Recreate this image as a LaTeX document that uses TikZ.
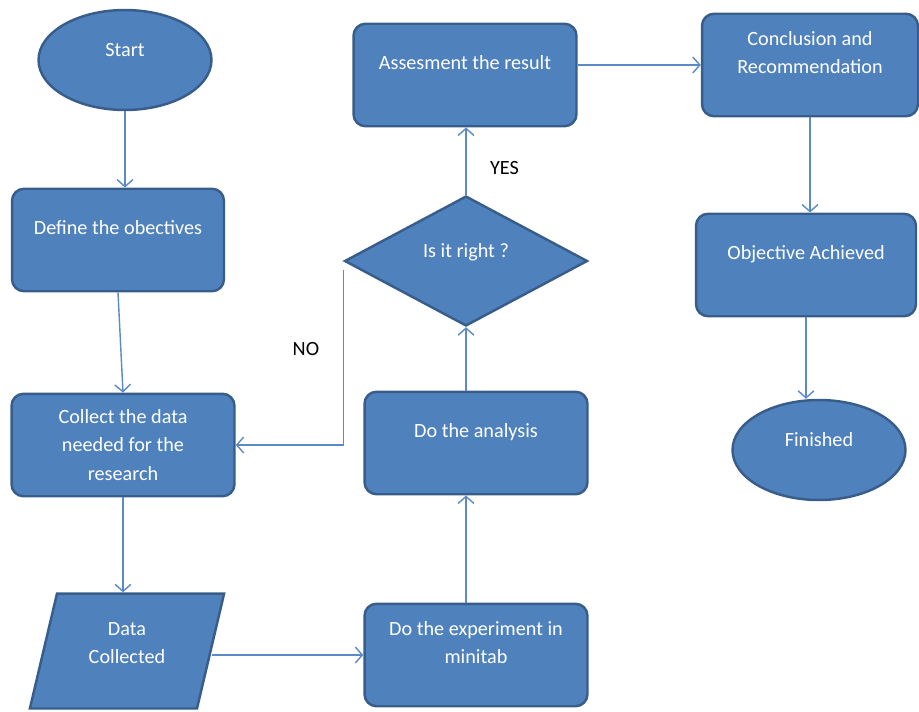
\documentclass[tikz,border=0pt]{standalone}
\usepackage{fontspec}
\setmainfont{Carlito}
\usepackage{xcolor}
\usetikzlibrary{arrows.meta,positioning,calc,shapes.geometric}
\definecolor{boxfill}{HTML}{4F81BD}
\definecolor{boxline}{HTML}{385D8A}
\definecolor{flowline}{HTML}{5B8AC6}

\begin{document}
\begin{tikzpicture}[
  x=0.02cm, y=-0.02cm,
  >={Straight Barb[length=4pt, width=9pt, line width=0.8pt]},
  shp/.style={draw=boxline, fill=boxfill, line width=1.4pt, text=white,
              align=center, font=\fontsize{11.5}{16}\selectfont},
  proc/.style={shp, rectangle, rounded corners=0.24cm,
               minimum width=4.46cm, minimum height=2.05cm},
  term/.style={shp, ellipse, minimum width=3.46cm, minimum height=2cm},
  decide/.style={shp, diamond, aspect=1.87, minimum width=4.86cm, minimum height=2.6cm},
  io/.style={shp, trapezium, trapezium left angle=76, trapezium right angle=104,
             trapezium stretches=true, minimum width=3.9cm, minimum height=2.3cm},
  lift/.style={text depth=#1},
  flow/.style={->, draw=flowline, line width=0.8pt},
  tag/.style={font=\fontsize{11.5}{14}\selectfont},
]
\useasboundingbox (0,0) rectangle (919,711);

% left column
\node[term, lift=12pt] (start) at (125,60) {Start};
\node[proc, minimum width=4.24cm, lift=14pt] (define) at (118,240) {Define the obectives};
\node[proc] (collect) at (123,445) {Collect the data\\needed for the\\research};
\node[io, lift=9pt] (data) at (127,651) {Data\\Collected};

% middle column
\node[proc, lift=14pt] (exp) at (476,655) {Do the experiment in\\minitab};
\node[proc, lift=14pt] (analysis) at (476,443) {Do the analysis};
\node[decide, lift=12pt] (dec) at (466,261) {Is it right ?};
\node[proc, lift=14pt] (assess) at (465,75) {Assesment the result};

% right column
\node[proc, minimum width=4.32cm, lift=14pt] (concl) at (810,65) {Conclusion and\\Recommendation};
\node[proc, minimum width=4.4cm, lift=14pt] (obj) at (806,265) {Objective Achieved};
\node[term, lift=12pt] (fin) at (819,450) {Finished};

% connectors
\draw[flow] (start.south) -- (start.south |- define.north);
\draw[flow] (define.south) -- (collect.north);
\draw[flow] (collect.south) -- (collect.south |- data.north);
\draw[flow] (exp.west -| data.east) -- (exp.west);
\draw[flow] (dec.south |- exp.north) -- (dec.south |- analysis.south);
\draw[flow] (dec.south |- analysis.north) -- (dec.south);
\draw[flow] (dec.north) -- (dec.north |- assess.south)
  node[tag, pos=0.4, right=10pt] (yes) {YES};
\draw[flow] ([yshift=-0.18cm]dec.west) |- (collect.east)
  node[tag, pos=0.225, left=10pt] (no) {NO};
\draw[flow] (assess.east |- concl.west) -- (concl.west);
\draw[flow] (concl.south) -- (concl.south |- obj.north);
\draw[flow] (obj.south) -- (obj.south |- fin.north);
\end{tikzpicture}
\end{document}
